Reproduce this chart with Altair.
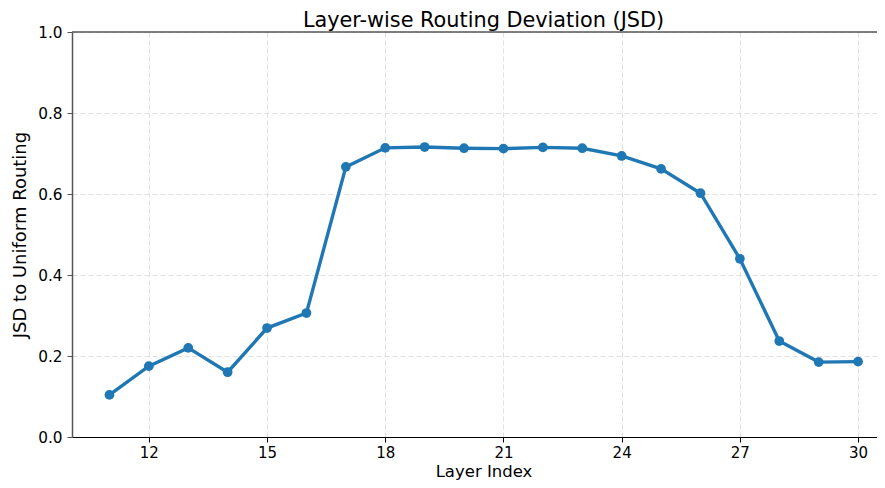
import altair as alt
import pandas as pd

layers = list(range(11, 31))
jsd = [0.104, 0.175, 0.220, 0.160, 0.269, 0.306, 0.667, 0.714, 0.716, 0.713,
       0.712, 0.715, 0.713, 0.694, 0.662, 0.602, 0.440, 0.237, 0.185, 0.186]
x_ticks = [12, 15, 18, 21, 24, 27, 30]
y_ticks = [0.0, 0.2, 0.4, 0.6, 0.8, 1.0]
title_text = "Layer-wise Routing Deviation (JSD)"
x_title = "Layer Index"
y_title = "JSD to Uniform Routing"

df = pd.DataFrame({"layer": layers, "jsd": jsd})

W, H = 805, 405
FONT = "DejaVu Sans"
BLUE = "#1f77b4"

xscale = alt.Scale(domain=[10.05, 30.48], nice=False, zero=False)
yscale = alt.Scale(domain=[0, 1], nice=False)

x_axis = alt.Axis(values=x_ticks, title=x_title, grid=True, gridDash=[5, 3],
                  gridColor="#e0e0e0", gridWidth=1, domainColor="black", domainWidth=1.2,
                  tickColor="black", tickSize=5, tickWidth=1, labelFontSize=15,
                  labelColor="black", labelPadding=3, titleFontSize=16.5,
                  titleFontWeight="normal", titleColor="black",
                  titleBaseline="alphabetic", titleY=39.5, titleX=411.5,
                  labelFont=FONT, titleFont=FONT, format="d")
y_axis = alt.Axis(values=y_ticks, title=y_title, grid=True, gridDash=[5, 3],
                  gridColor="#e0e0e0", gridWidth=1, domainColor="#555555", domainWidth=1.5,
                  tickColor="#555555", tickSize=5, tickWidth=1, labelFontSize=15.3,
                  labelColor="black", labelPadding=5, titleFontSize=18,
                  titleFontWeight="normal", titleColor="black",
                  titleBaseline="alphabetic", titleAngle=270, titleAlign="center",
                  titleX=-47, titleY=H / 2,
                  labelFont=FONT, titleFont=FONT, format=".1f")

base = alt.Chart(df)
line = base.mark_line(color=BLUE, strokeWidth=3.4).encode(
    x=alt.X("layer:Q", scale=xscale, axis=x_axis),
    y=alt.Y("jsd:Q", scale=yscale, axis=y_axis),
)
points = base.mark_circle(color=BLUE, size=95, opacity=1).encode(
    x=alt.X("layer:Q", scale=xscale, axis=x_axis),
    y=alt.Y("jsd:Q", scale=yscale, axis=y_axis),
)
top = alt.Chart(pd.DataFrame({"v": [1.0]})).mark_rule(color="#555555", strokeWidth=1.5).encode(
    y=alt.Y("v:Q", scale=yscale, axis=y_axis),
    x=alt.value(0),
    x2=alt.value(W),
)

chart = alt.layer(line, points, top).properties(
    width=W, height=H,
    title=alt.TitleParams(title_text, font=FONT, fontSize=20.8, fontWeight="normal",
                          color="black", anchor="middle", dx=9, dy=6.5, offset=0),
    padding={"left": 64, "top": 24, "right": 0, "bottom": 43},
    autosize=alt.AutoSizeParams(type="none"),
    background="white",
).configure_view(stroke=None)

chart.save("out.html", embed_options={"renderer": "svg", "actions": False})
